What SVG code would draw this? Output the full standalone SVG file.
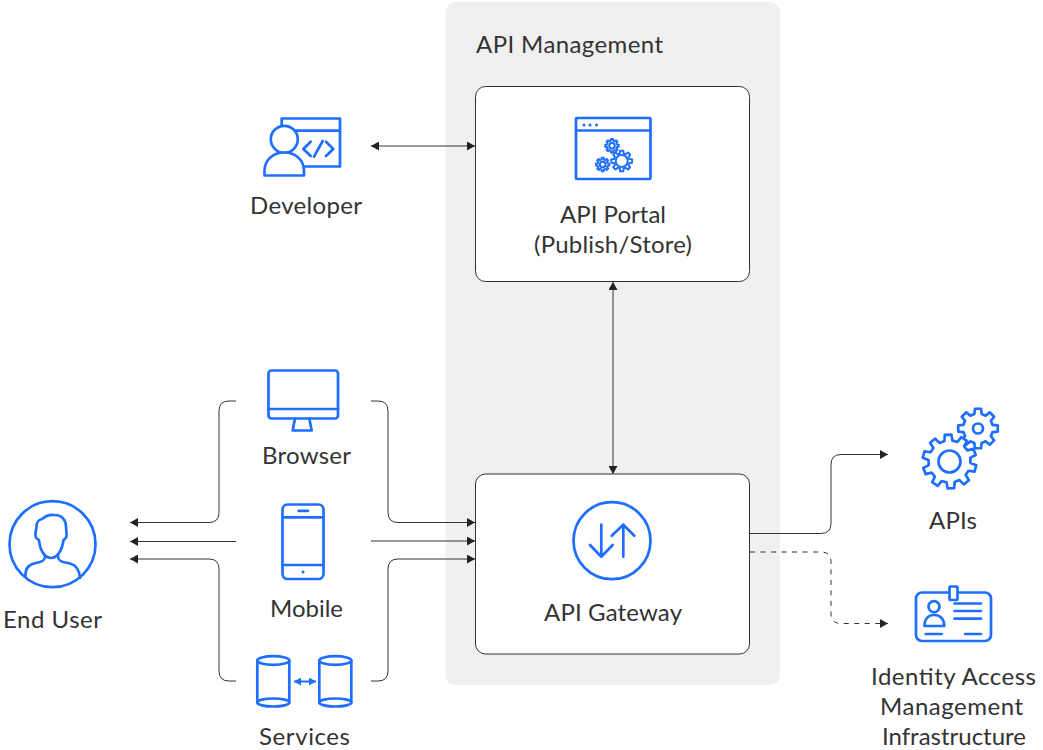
<svg xmlns="http://www.w3.org/2000/svg" width="1043" height="750" viewBox="0 0 1043 750">
<style>
text{font-family:"Lato","Liberation Sans",sans-serif;font-size:24px;fill:#333;text-anchor:middle}
.i{fill:none;stroke:#1f6fff;stroke-width:2.7;stroke-linecap:round;stroke-linejoin:round}
.t{stroke-width:2}
.w{fill:#fff}
.box{fill:#fff;stroke:#333;stroke-width:1}
.c{fill:none;stroke:#333;stroke-width:1}
.d{stroke-dasharray:5 5.500}
.g{vector-effect:non-scaling-stroke}
</style>
<defs>
<marker id="a" markerUnits="userSpaceOnUse" markerWidth="8" markerHeight="9" refX="8" refY="4.500" orient="auto-start-reverse"><path d="M0 0L8 4.500L0 9Z" fill="#222"/></marker>
<marker id="b" markerUnits="userSpaceOnUse" markerWidth="7" markerHeight="8" refX="7" refY="4" orient="auto-start-reverse"><path d="M0 0L7 4L0 8Z" fill="#1f6fff"/></marker>
<path id="g8" class="g" d="M.728-.181L.988-.156L.988.156L.728.181L.643.386L.809.588L.588.809L.386.643L.181.728L.156.988L-.156.988L-.181.728L-.386.643L-.588.809L-.809.588L-.643.386L-.728.181L-.988.156L-.988-.156L-.728-.181L-.643-.386L-.809-.588L-.588-.809L-.386-.643L-.181-.728L-.156-.988L.156-.988L.181-.728L.386-.643L.588-.809L.809-.588L.643-.386Z"/>
<path id="g10" class="g" d="M.766-.149L.993-.122L.993.122L.766.149L.707.33L.875.485L.731.682L.532.57L.378.682L.423.906L.191.982L.095.775L-.095.775L-.191.982L-.423.906L-.378.682L-.532.57L-.731.682L-.875.485L-.707.33L-.766.149L-.993.122L-.993-.122L-.766-.149L-.707-.33L-.875-.485L-.731-.682L-.532-.57L-.378-.682L-.423-.906L-.191-.982L-.095-.775L.095-.775L.191-.982L.423-.906L.378-.682L.532-.57L.731-.682L.875-.485L.707-.33Z"/>
</defs>
<rect id="panel" x="445.500" y="2" width="334.500" height="683" rx="10" fill="#f0f0f0"/>
<text x="569.500" y="53" textLength="187">API Management</text>
<g id="connectors">
<path class="c" marker-start="url(#a)" marker-end="url(#a)" d="M371 146H475"/>
<path class="c" marker-start="url(#a)" marker-end="url(#a)" d="M613 282V474"/>
<path class="c" marker-end="url(#a)" d="M236 401H229Q219 401 219 411V512.500Q219 522.500 209 522.500H130"/>
<path class="c" marker-end="url(#a)" d="M236 541.500H130"/>
<path class="c" marker-end="url(#a)" d="M236 681H229Q219 681 219 671V569Q219 559 209 559H130"/>
<path class="c" marker-end="url(#a)" d="M371 401H378Q388 401 388 411V512.500Q388 522.500 398 522.500H475"/>
<path class="c" marker-end="url(#a)" d="M371 541H475"/>
<path class="c" marker-end="url(#a)" d="M371 681H378Q388 681 388 671V569Q388 559 398 559H475"/>
<path class="c" marker-end="url(#a)" d="M750 533.500H821Q831 533.500 831 523.500V464.500Q831 454.500 841 454.500H888"/>
<path class="c d" marker-end="url(#a)" d="M750 552H821Q831 552 831 562V613.500Q831 623.500 841 623.500H888"/>
</g>
<g id="api-portal">
<rect class="box" x="475.500" y="86.500" width="274" height="195" rx="10"/>
<g class="i">
<rect x="576" y="118" width="74.500" height="61" rx="1"/>
<path d="M576 130.500H650.500"/>
</g>
<g class="i t">
<use href="#g8" transform="translate(612 145.700) scale(6.800)"/>
<circle cx="612" cy="145.700" r="2.800"/>
<use href="#g8" transform="translate(621.700 161) scale(10.500)"/>
<circle cx="621.700" cy="161" r="6"/>
<use href="#g8" transform="translate(602.700 164.500) scale(6.800)"/>
<circle cx="602.700" cy="164.500" r="2.800"/>
</g>
<g fill="#1f6fff"><circle cx="584" cy="125" r="1.500"/><circle cx="590" cy="125" r="1.500"/><circle cx="596.500" cy="125" r="1.500"/></g>
<text x="613" y="223" textLength="106">API Portal</text>
<text x="613" y="253" textLength="158">(Publish/Store)</text>
</g>
<g id="api-gateway">
<rect class="box" x="475.500" y="474" width="274" height="180" rx="10"/>
<g class="i">
<circle cx="612" cy="540.700" r="38.500"/>
<path d="M601.300 524.700V556.700M590 545L601.300 556.700L612.700 545"/>
<path d="M623.300 556.700V524.700M611.700 535.700L623.300 524.700L634.300 535.700"/>
</g>
<text x="613" y="621" textLength="138">API Gateway</text>
</g>
<g id="developer">
<g class="i">
<path d="M281.700 125V118.500H340V166.500H304"/>
<path d="M296 130.700H340"/>
<circle cx="284.300" cy="139.300" r="13.500"/>
<path class="w" d="M264.500 175.500V171C264.500 160 273 152.500 284.300 152.500C295.500 152.500 304 160 304 171V175.500Z"/>
<path d="M310.700 141.700L303.300 149L310.700 156M322.700 141L314 156.700M326 141.700L333.300 149L326 156"/>
</g>
<text x="306" y="214" textLength="112">Developer</text>
</g>
<g id="browser">
<g class="i">
<rect x="268.500" y="370.500" width="69.500" height="48" rx="3"/>
<path d="M268.500 409H338M295 418.500L292.700 430.500H311.700L309.300 418.500"/>
</g>
<text x="306.500" y="464" textLength="89">Browser</text>
</g>
<g id="mobile">
<g class="i">
<rect x="282.500" y="504.500" width="41" height="74.500" rx="5"/>
<path d="M282.500 517.300H323.500M282.500 565H323.500M298.500 510.800H308"/>
</g>
<circle cx="303" cy="572" r="1.500" fill="#1f6fff"/>
<text x="306.500" y="617" textLength="73">Mobile</text>
</g>
<g id="services">
<g class="i">
<ellipse cx="273.300" cy="660.500" rx="16" ry="4.300"/>
<path d="M257.300 660.500V702.500M289.300 660.500V702.500"/>
<ellipse cx="273.300" cy="702.500" rx="16" ry="4"/>
<ellipse cx="335.300" cy="660.500" rx="16" ry="4.300"/>
<path d="M319.300 660.500V702.500M351.300 660.500V702.500"/>
<ellipse cx="335.300" cy="702.500" rx="16" ry="4"/>
</g>
<path d="M294 681.500H316" fill="none" stroke="#1f6fff" stroke-width="2" marker-start="url(#b)" marker-end="url(#b)"/>
<text x="304.500" y="745" textLength="91">Services</text>
</g>
<g id="end-user">
<g class="i">
<circle cx="52.500" cy="544.200" r="43"/>
<path d="M39 540C36 539 35 537 35.500 533L36.500 527C36.500 522 38 520 42 519C46 515.500 51 514.500 55 515C62 515 66 520 66 527L66.500 533C67 537 65.500 539 63.500 540C62 551 57 558 51 558C45 558 40 551 39 540Z"/>
<path d="M45 556C45 560 43 561 40 562L34 563.500C28 565 25 570 25.500 577M58 556C58 560 60 561 63 562L70 563.500C76 565 79.500 570 80 578"/>
</g>
<text x="52.500" y="628" textLength="99">End User</text>
</g>
<g id="apis">
<g class="i">
<use href="#g8" transform="translate(978 428.500) scale(20)"/>
<circle cx="978" cy="428.500" r="5"/>
<use class="w" href="#g10" transform="translate(949.500 461.500) rotate(15) scale(27)"/>
<circle cx="949.500" cy="461.500" r="11"/>
</g>
<text x="953" y="529" textLength="48">APIs</text>
</g>
<g id="identity">
<g class="i">
<rect x="916" y="592.500" width="75" height="48.500" rx="6"/>
<rect class="w" x="949.500" y="586.500" width="8" height="13.500" rx="1"/>
<circle cx="934" cy="606.700" r="5.500"/>
<path d="M924.500 626C924.500 619 928.500 615 934.300 615C940 615 944.300 619 944.300 626Z"/>
<path d="M954.500 603.500H981M954.500 611H981M954.500 618.700H981M925.700 634H941.700M965 634H981"/>
</g>
<text x="953.500" y="685" textLength="165">Identity Access</text>
<text x="951.500" y="715" textLength="143">Management</text>
<text x="954" y="745" textLength="144">Infrastructure</text>
</g>
</svg>
